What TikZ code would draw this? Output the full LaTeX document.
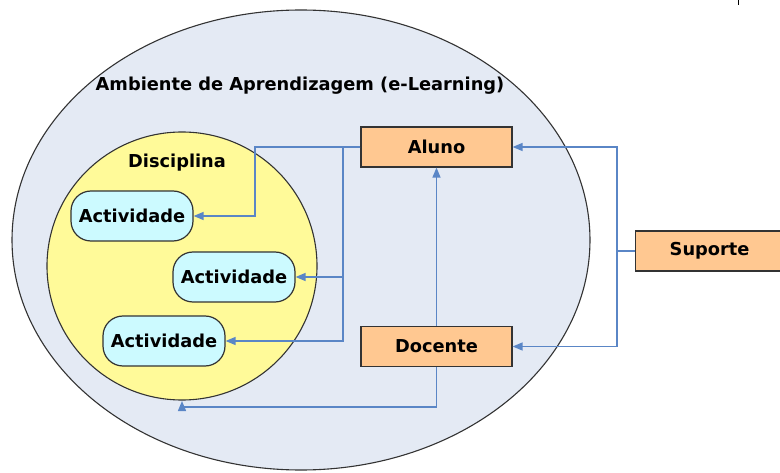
\documentclass[tikz,border=0pt]{standalone}
\usepackage{fontspec}
\setmainfont{DejaVu Sans}
\usetikzlibrary{arrows.meta}
\definecolor{outerfill}{HTML}{E4EAF4}
\definecolor{innerfill}{HTML}{FFFA99}
\definecolor{actfill}{HTML}{CCFAFF}
\definecolor{boxfill}{HTML}{FFC891}
\definecolor{linkblue}{HTML}{5A86C6}
\definecolor{edgegray}{HTML}{333333}
\tikzset{
  lbl/.style={font=\fontsize{17.8}{21}\selectfont\bfseries, text=black},
  actbox/.style={lbl, draw=edgegray, line width=1.2pt, fill=actfill, rounded corners=20pt,
    minimum width=122pt, minimum height=50pt, inner sep=0pt},
  rolebox/.style={lbl, draw=edgegray, line width=1.2pt, fill=boxfill,
    minimum width=151pt, minimum height=40pt, inner sep=0pt},
  link/.style={draw=linkblue, line width=1.4pt},
  arr/.style={link, -{Triangle[length=10pt,width=8pt]}},
}
\begin{document}
\begin{tikzpicture}[x=1pt,y=-1pt]
\useasboundingbox (0,0) rectangle (780,473);
\fill[white] (0,0) rectangle (780,473);
% outer environment
\draw[edgegray, line width=1.1pt, fill=outerfill] (301,240) ellipse [x radius=289, y radius=230];
\node[lbl] (amb) at (300,86) {Ambiente de Aprendizagem (e-Learning)};
% inner discipline
\draw[edgegray, line width=1.1pt, fill=innerfill] (182,266) ellipse [x radius=135, y radius=134];
\coordinate (disbot) at (182,401);
\node[lbl] (dis) at (177,163) {Disciplina};
% activities
\node[actbox] (a1) at (132,216) {Actividade};
\node[actbox] (a2) at (234,277) {Actividade};
\node[actbox] (a3) at (164,341) {Actividade};
% roles
\node[rolebox] (aluno) at (436.5,147) {Aluno};
\node[rolebox] (docente) at (436.5,346.5) {Docente};
\node[rolebox, minimum width=148pt, anchor=west] (suporte) at (635,251) {Suporte};
% connectors from Aluno to activities
\draw[arr] (aluno.west) -| (255,147) |- (a1.east);
\draw[link] (aluno.west) -- (343,147);
\draw[arr] (343,147) |- (a2.east);
\draw[arr] (343,147) |- (a3.east);
% Docente to Aluno
\draw[arr] (docente.north) -- (aluno.south);
% Docente to Disciplina
\draw[arr] (docente.south) |- (182,407) -- (disbot);
% Suporte to Aluno / Docente
\draw[link] (suporte.west) -- (617,251);
\draw[arr] (617,251) |- (aluno.east);
\draw[arr] (617,251) |- (docente.east);
% small tick mark top right
\draw[black, line width=1pt] (738,0) -- (738,5);
\end{tikzpicture}
\end{document}
